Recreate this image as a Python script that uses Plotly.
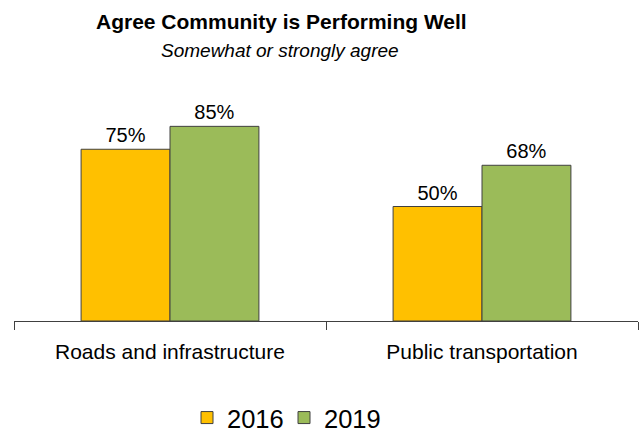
import plotly.graph_objects as go

categories = ["Roads and infrastructure", "Public transportation"]
years = ["2016", "2019"]
values_2016 = [75, 50]
values_2019 = [85, 68]
colors = {"2016": "#FFC000", "2019": "#9BBB59"}

fig = go.Figure()
for yr, vals in zip(years, [values_2016, values_2019]):
    fig.add_trace(go.Bar(
        x=categories, y=vals, name=yr,
        marker=dict(color=colors[yr], line=dict(color="#404040", width=1)),
        text=[f"{v}%" for v in vals], textposition="outside",
        textfont=dict(size=20, color="#000000"), cliponaxis=False,
    ))

L, R, T, B = 14, 4, 92, 113
PH = 434 - T - B
PW = 642 - L - R

def px_x(x):
    return (x - L) / PW

def px_y(y):
    return (434 - B - y) / PH

fig.update_layout(
    width=642, height=434,
    margin=dict(l=L, r=R, t=T, b=B, autoexpand=False),
    paper_bgcolor="white", plot_bgcolor="white",
    barmode="group", bargap=0.43, bargroupgap=0,
    font=dict(family="Liberation Sans, Arial, sans-serif", color="#000000"),
    showlegend=True,
    legend=dict(orientation="h", x=px_x(187), xanchor="left", y=px_y(418), yanchor="middle",
                font=dict(size=25.5), itemwidth=30, traceorder="normal",
                entrywidth=52, tracegroupgap=0),
    xaxis=dict(range=[-0.5, 1.5], showline=True, linecolor="#404040", linewidth=1,
               ticks="outside", tickson="boundaries", ticklen=8, tickcolor="#404040",
               tickfont=dict(size=21), ticklabelstandoff=12, automargin=False),
    yaxis=dict(range=[0, 100], visible=False),
)
fig.add_annotation(text="<b>Agree Community is Performing Well</b>", xref="paper", yref="paper",
                   x=px_x(281.5), y=px_y(22), xanchor="center", yanchor="middle",
                   showarrow=False, font=dict(size=21))
fig.add_annotation(text="<i>Somewhat or strongly agree</i>", xref="paper", yref="paper",
                   x=px_x(280), y=px_y(51), xanchor="center", yanchor="middle",
                   showarrow=False, font=dict(size=19))

fig.write_html("out.html", config={"displayModeBar": False},
               post_script="document.body.style.margin='0';")
